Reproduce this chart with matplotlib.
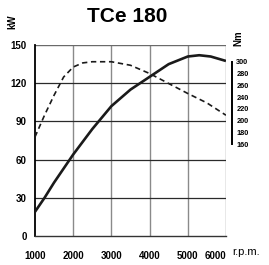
import matplotlib
matplotlib.use("Agg")
import matplotlib.pyplot as plt
import matplotlib.transforms as mtransforms

# engine curves
rpm = [1000, 1250, 1500, 2000, 2500, 3000, 3500, 4000, 4500, 5000, 5300, 5600, 6000]
power_kw = [19, 30, 42, 64, 84, 102, 115, 125, 135, 141, 142, 141, 137.5]

rpm_tq = [1000, 1250, 1500, 1750, 2000, 2250, 2500, 3000, 3500, 4000, 4500, 5000, 5500, 6000]
torque_nm = [172, 209, 243, 274, 291, 298, 300, 300, 294, 280, 263, 246, 230, 209]

kw_ticks = [0, 30, 60, 90, 120, 150]
rpm_ticks = [1000, 2000, 3000, 4000, 5000, 6000]
nm_ticks = [160, 180, 200, 220, 240, 260, 280, 300]

plt.rcParams['font.family'] = ['Liberation Sans', 'DejaVu Sans']

fig = plt.figure(figsize=(2.69, 2.65), dpi=100)
ax = fig.add_axes([0.130, 0.1094, 0.710, 0.7206])

ax.set_xlim(1000, 6000)
ax.set_ylim(0, 150)
for x in rpm_ticks[1:]:
    ax.axvline(x, color='#8a8a8a', lw=1.0, zorder=1)
for y in kw_ticks[1:-1]:
    ax.axhline(y, color='#2a2a2a', lw=0.9, zorder=1)
ax.axhline(150, color='#6a6a6a', lw=1.0, zorder=1)

for s in ['top', 'right']:
    ax.spines[s].set_visible(False)
ax.spines['left'].set_linewidth(1.3)
ax.spines['bottom'].set_linewidth(1.0)
ax.spines['bottom'].set_color('#333333')

ax.plot(rpm, power_kw, color='#1a1a1a', lw=1.9, zorder=3, solid_capstyle='butt')

ax.set_xticks(rpm_ticks)
ax.set_xticklabels([str(t) for t in rpm_ticks], fontsize=7, fontweight='bold')
ax.set_yticks(kw_ticks)
ax.set_yticklabels([str(t) for t in kw_ticks], fontsize=7, fontweight='bold')
ax.tick_params(length=0, pad=6)
ax.tick_params(axis='x', pad=11)
# last rpm label sits left of its gridline, leaving room for "r.p.m."
last = ax.get_xticklabels()[-1]
last.set_transform(last.get_transform() + mtransforms.ScaledTranslation(-11 / 100, 0, fig.dpi_scale_trans))

# torque on its own scale
ax2 = ax.twinx()
ax2.set_ylim(3.5, 328.4)
ax2.plot(rpm_tq, torque_nm, color='#1a1a1a', lw=1.2, ls=(0, (3.2, 2.2)), zorder=3)
for s in ['top', 'left', 'bottom']:
    ax2.spines[s].set_visible(False)
ax2.spines['right'].set_position(('outward', 4))
ax2.spines['right'].set_bounds(160, 300)
ax2.spines['right'].set_linewidth(1.4)
ax2.set_yticks(nm_ticks)
ax2.set_yticklabels([str(t) for t in nm_ticks], fontsize=5.3, fontweight='bold')
ax2.tick_params(length=0, pad=3.5)

fig.text(0.474, 0.937, 'TCe 180', fontsize=15, fontweight='bold', ha='center', va='center')
fig.text(0.045, 0.918, 'kW', fontsize=7, fontweight='bold', rotation=90, ha='center', va='center')
fig.text(0.885, 0.855, 'Nm', fontsize=7, fontweight='bold', rotation=90, ha='center', va='center')
fig.text(0.862, 0.048, 'r.p.m.', fontsize=8, ha='left', va='center')

fig.savefig('out.png', dpi=100)
